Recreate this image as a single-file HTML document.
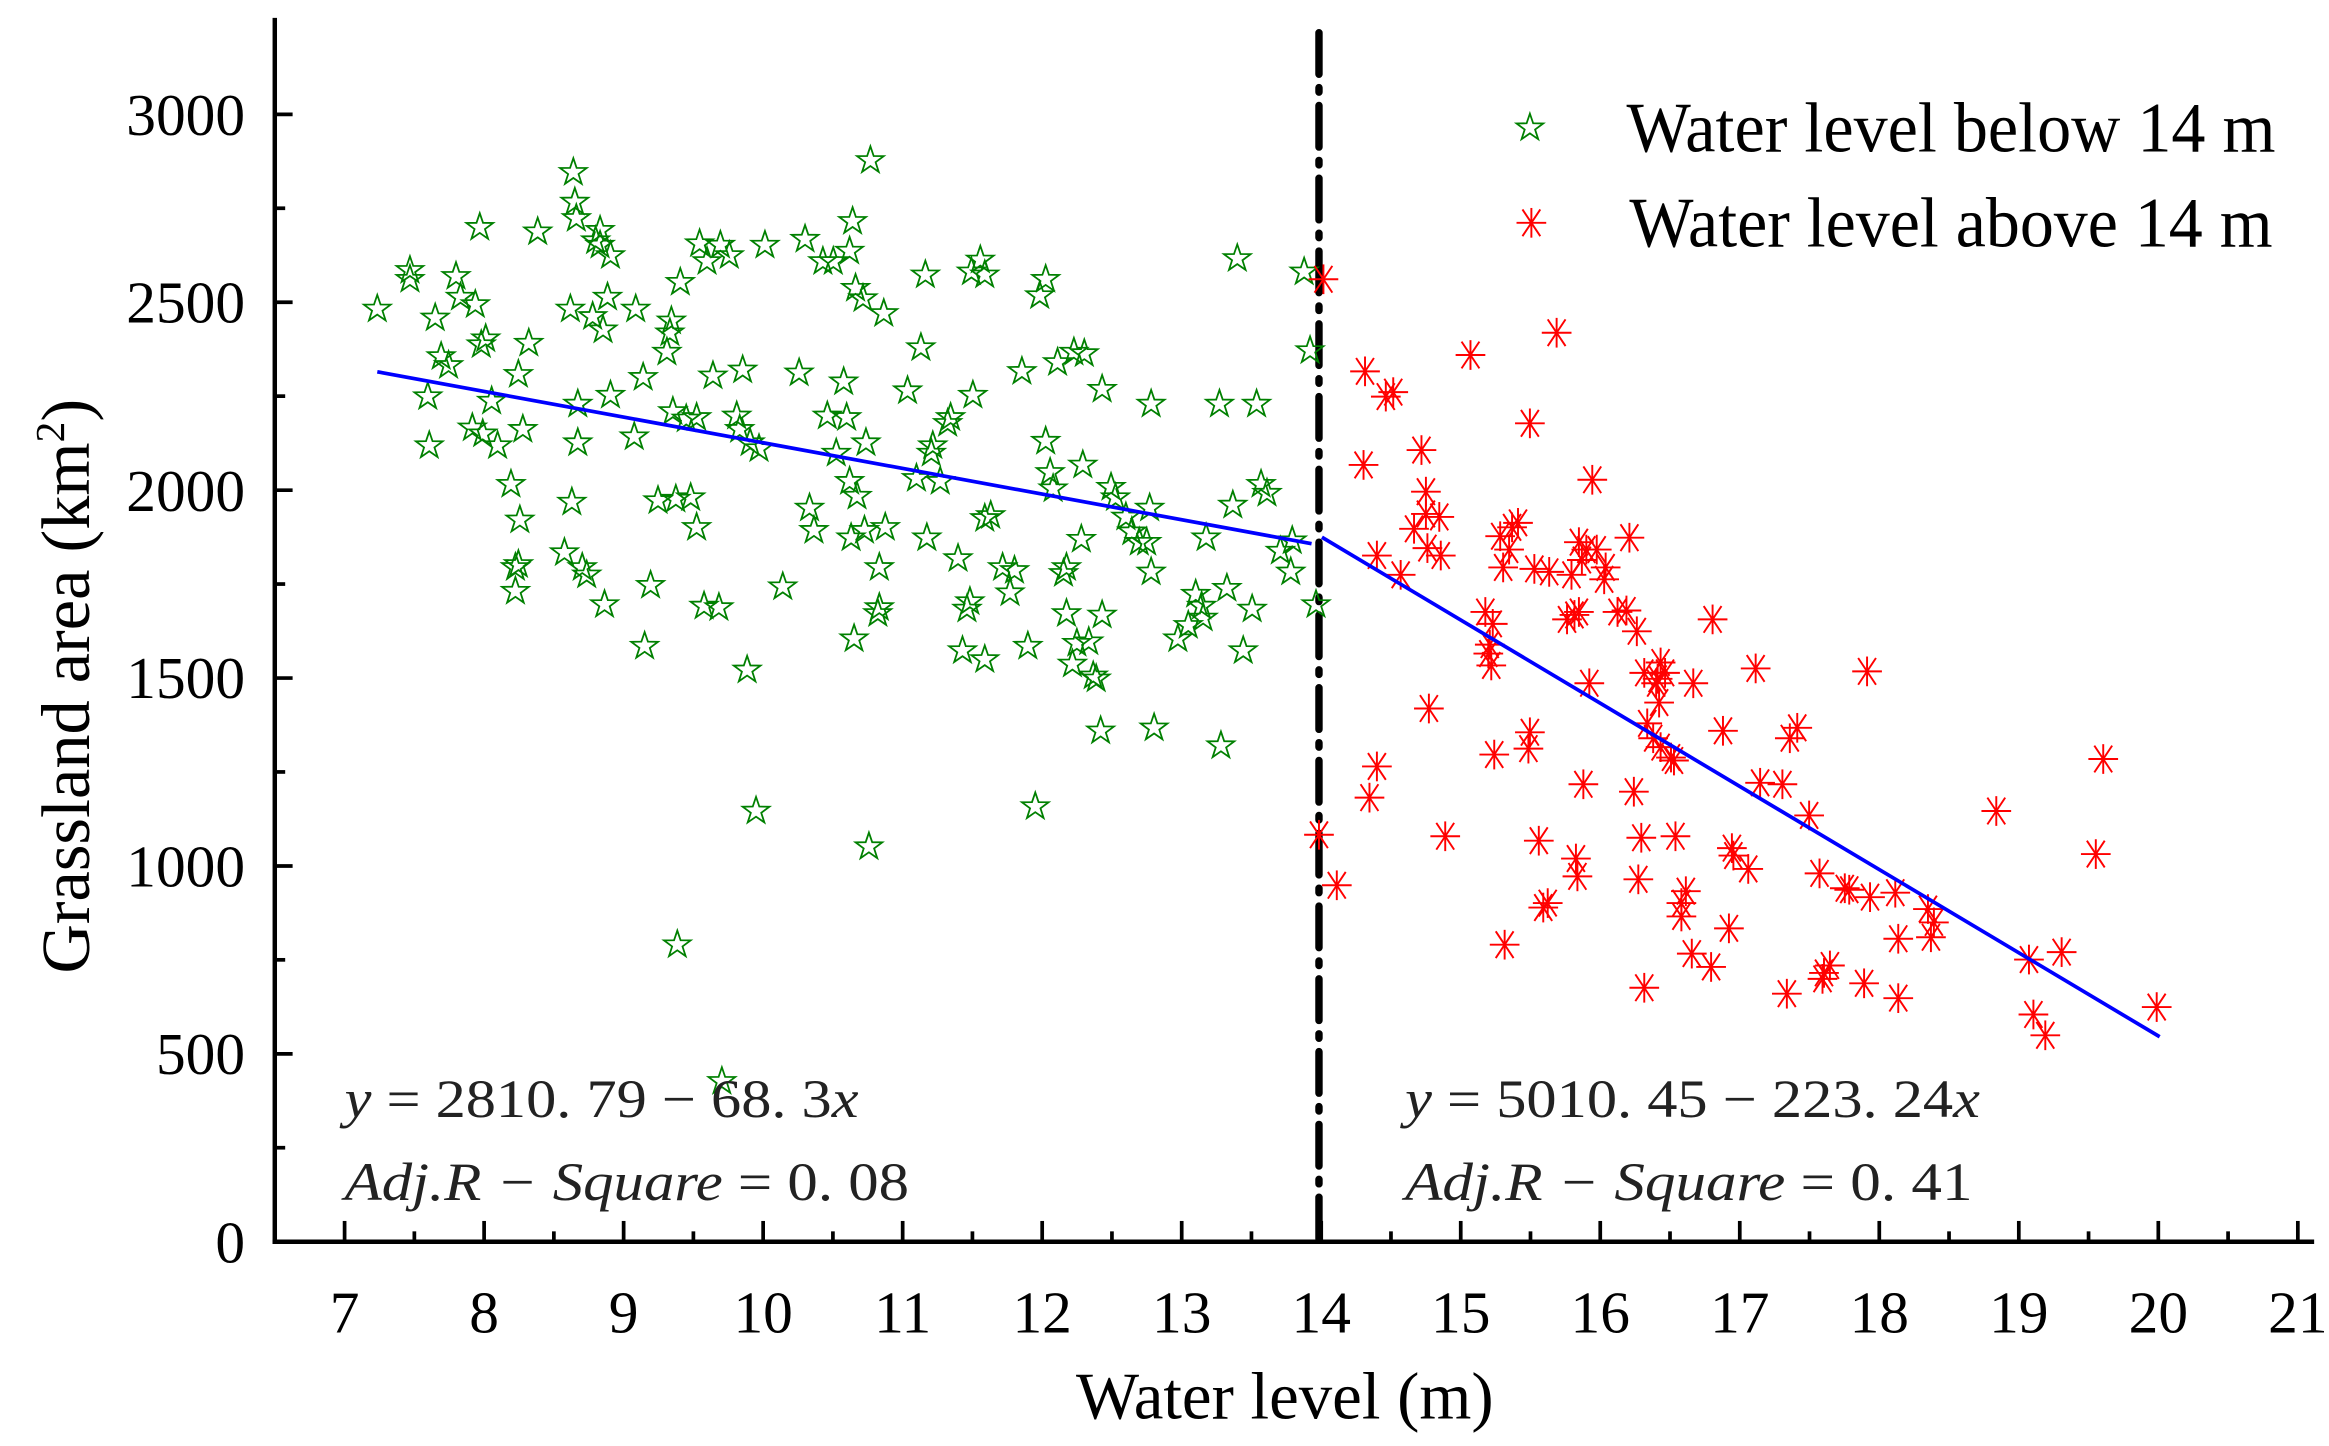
<!DOCTYPE html>
<html><head><meta charset="utf-8"><style>html,body{margin:0;padding:0;background:#fff}svg{display:block}</style></head>
<body>
<svg xmlns="http://www.w3.org/2000/svg" xmlns:xlink="http://www.w3.org/1999/xlink" width="2329" height="1446" viewBox="0 0 1568 973.5" font-family="'Liberation Serif',serif">
<defs>
<polygon id="st" points="0,-9.5 2.2,-3 9,-2.9 3.5,1.2 5.6,7.7 0,3.8 -5.6,7.7 -3.5,1.2 -9,-2.9 -2.2,-3" fill="none" stroke="#008000" stroke-width="1.2"/>
<g id="as" stroke="#ff0000" stroke-width="1.3"><line x1="0" y1="-10" x2="0" y2="10"/><line x1="-10" y1="0" x2="10" y2="0"/><line x1="-6" y1="-9" x2="6" y2="9"/><line x1="-6" y1="9" x2="6" y2="-9"/></g>
</defs>
<g stroke="#000" stroke-width="3" fill="none">
<line x1="185" y1="12" x2="185" y2="837.5"/>
<line x1="183.5" y1="836" x2="1558" y2="836"/>
</g>
<g stroke="#000" stroke-width="2.5">
<line x1="185" y1="836" x2="197" y2="836"/><line x1="185" y1="772.7" x2="192" y2="772.7"/>
<line x1="185" y1="709.5" x2="197" y2="709.5"/><line x1="185" y1="646.2" x2="192" y2="646.2"/>
<line x1="185" y1="583" x2="197" y2="583"/><line x1="185" y1="519.7" x2="192" y2="519.7"/>
<line x1="185" y1="456.5" x2="197" y2="456.5"/><line x1="185" y1="393.2" x2="192" y2="393.2"/>
<line x1="185" y1="330" x2="197" y2="330"/><line x1="185" y1="266.7" x2="192" y2="266.7"/>
<line x1="185" y1="203.5" x2="197" y2="203.5"/><line x1="185" y1="140.2" x2="192" y2="140.2"/>
<line x1="185" y1="77" x2="197" y2="77"/>
</g>
<g stroke="#000" stroke-width="2.5" id="xt"></g>
<g font-size="40" text-anchor="end" fill="#000">
<text x="165" y="850">0</text><text x="165" y="723">500</text><text x="165" y="597">1000</text>
<text x="165" y="470">1500</text><text x="165" y="344">2000</text><text x="165" y="217">2500</text><text x="165" y="91">3000</text>
</g>
<g font-size="40" text-anchor="middle" fill="#000" id="xl"></g>
<text x="865" y="955" font-size="45" text-anchor="middle">Water level (m)</text>
<text transform="translate(60,462) rotate(-90)" font-size="46" text-anchor="middle">Grassland area (km<tspan dy="-17" font-size="28">2</tspan><tspan dy="17">)</tspan></text>
<line x1="888" y1="22" x2="888" y2="836" stroke="#000" stroke-width="5" stroke-dasharray="28,9,3,9" stroke-linecap="round"/>
<g id="pts"></g>
<line x1="254" y1="250.3" x2="883" y2="366" stroke="#0000ff" stroke-width="2.5"/>
<line x1="890" y1="361.7" x2="1454" y2="698" stroke="#0000ff" stroke-width="2.5"/>
<use xlink:href="#st" x="1030" y="86"/>
<use xlink:href="#as" x="1031" y="150"/>
<text x="1095" y="102" font-size="48" textLength="437" lengthAdjust="spacingAndGlyphs">Water level below 14 m</text>
<text x="1097" y="166" font-size="48" textLength="433" lengthAdjust="spacingAndGlyphs">Water level above 14 m</text>
<g font-size="36" fill="#222">
<text x="232" y="752" textLength="346" lengthAdjust="spacingAndGlyphs"><tspan font-style="italic">y</tspan>  =  2810. 79 − 68. 3<tspan font-style="italic">x</tspan></text>
<text x="232" y="808" font-style="italic" textLength="380" lengthAdjust="spacingAndGlyphs">Adj.R − Square <tspan font-style="normal">= 0. 08</tspan></text>
<text x="946" y="752" textLength="387" lengthAdjust="spacingAndGlyphs"><tspan font-style="italic">y</tspan>  =  5010. 45 − 223. 24<tspan font-style="italic">x</tspan></text>
<text x="946" y="808" font-style="italic" textLength="382" lengthAdjust="spacingAndGlyphs">Adj.R − Square <tspan font-style="normal">= 0. 41</tspan></text>
</g>
<script>
var NS="http://www.w3.org/2000/svg",XL="http://www.w3.org/1999/xlink";
var xt=document.getElementById("xt"),xl=document.getElementById("xl");
for(var i=0;i<=28;i++){var x=232+i*46.965;var l=document.createElementNS(NS,"line");l.setAttribute("x1",x);l.setAttribute("x2",x);l.setAttribute("y1",836);l.setAttribute("y2",i%2?829:822);xt.appendChild(l);
if(i%2==0){var t=document.createElementNS(NS,"text");t.setAttribute("x",x);t.setAttribute("y",897);t.textContent=7+i/2;xl.appendChild(t);}}
var g=[[254,208],[276,182],[276,188],[288,267],[289,300],[293,214],[297,240],[302,246],[307,186],[310,200],[318,288],[323,153],[320,205],[324,232],[327,228],[331,270],[325,292],[335,300],[344,326],[347,382],[347,398],[349,380],[350,350],[349,252],[352,289],[356,231],[362,156],[380,372],[385,338],[384,208],[386,116],[387,136],[388,147],[389,272],[389,298],[392,382],[395,387],[399,213],[401,162],[404,155],[404,165],[406,222],[407,407],[409,200],[411,172],[411,266],[428,208],[427,294],[433,254],[434,435],[438,394],[443,337],[449,237],[451,224],[452,216],[453,277],[455,336],[456,636],[458,190],[462,282],[465,335],[469,281],[469,355],[471,164],[474,408],[476,176],[480,253],[485,165],[484,409],[486,728],[491,172],[496,280],[498,289],[500,249],[503,451],[505,298],[509,546],[511,302],[515,165],[527,395],[538,251],[542,161],[545,342],[548,357],[554,176],[557,280],[561,176],[563,305],[568,257],[570,281],[572,324],[573,362],[572,169],[574,149],[575,430],[576,194],[577,334],[581,201],[582,357],[583,298],[586,108],[585,570],[591,413],[592,382],[592,409],[595,211],[596,355],[611,263],[617,322],[620,234],[623,185],[624,362],[627,305],[628,300],[633,324],[638,285],[640,281],[645,376],[648,438],[651,410],[653,405],[654,183],[655,266],[660,175],[663,185],[663,349],[667,347],[663,444],[675,382],[680,399],[683,384],[688,250],[692,435],[697,543],[700,199],[704,188],[704,297],[707,318],[709,329],[712,244],[718,382],[716,386],[718,413],[723,237],[725,433],[728,363],[729,313],[722,447],[730,238],[733,432],[738,457],[736,455],[741,492],[742,262],[742,414],[748,328],[751,335],[758,348],[762,358],[767,365],[772,365],[775,272],[775,385],[777,490],[774,342],[793,430],[800,421],[805,400],[809,408],[810,416],[812,362],[821,272],[822,502],[826,396],[830,340],[833,174],[837,438],[843,410],[846,272],[849,326],[853,332],[869,385],[870,364],[878,183],[882,236],[886,407],[862,371]];
var r=[[891,188],[888,562],[900,596],[918,313],[919,250],[922,537],[927,516],[927,374],[933,267],[938,264],[943,387],[952,356],[957,303],[960,331],[960,346],[961,369],[962,477],[969,348],[970,374],[973,563],[990,239],[1000,412],[1002,440],[1003,434],[1004,448],[1005,420],[1006,508],[1010,361],[1012,382],[1013,636],[1016,370],[1018,355],[1022,352],[1029,504],[1030,493],[1030,285],[1033,383],[1036,566],[1039,611],[1042,608],[1043,385],[1048,224],[1055,417],[1058,387],[1060,414],[1061,578],[1062,590],[1063,412],[1063,365],[1065,377],[1066,528],[1068,370],[1070,460],[1072,323],[1075,370],[1080,390],[1081,382],[1089,412],[1095,411],[1097,362],[1100,533],[1102,425],[1103,592],[1105,564],[1107,665],[1107,453],[1109,487],[1113,497],[1115,460],[1116,457],[1117,473],[1118,446],[1118,503],[1121,453],[1125,510],[1127,512],[1128,563],[1132,608],[1132,617],[1135,600],[1139,642],[1140,460],[1152,651],[1153,417],[1160,492],[1164,625],[1166,571],[1167,576],[1177,585],[1182,450],[1185,527],[1200,528],[1203,669],[1205,497],[1210,490],[1218,549],[1225,588],[1227,659],[1228,655],[1232,650],[1242,598],[1245,599],[1255,662],[1257,452],[1259,604],[1276,601],[1278,672],[1278,632],[1298,612],[1300,631],[1302,621],[1344,546],[1366,646],[1369,683],[1377,697],[1388,641],[1411,575],[1416,511],[1452,678]];
var P=document.getElementById("pts");
function add(a,id){a.forEach(function(p){var u=document.createElementNS(NS,"use");u.setAttributeNS(XL,"xlink:href",id);u.setAttribute("href",id);u.setAttribute("x",p[0]);u.setAttribute("y",p[1]);P.appendChild(u);});}
add(g,"#st");add(r,"#as");
</script>
</svg>
</body></html>
